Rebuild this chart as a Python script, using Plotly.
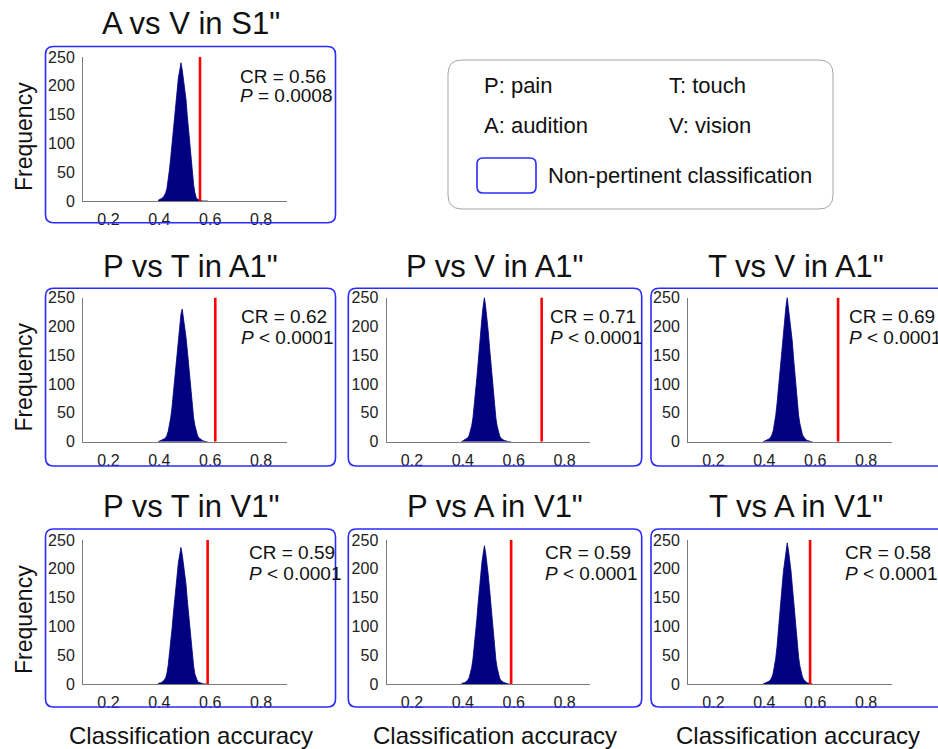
import plotly.graph_objects as go

W, H = 938, 749

# ---------------- data ----------------
BIN_CENTERS = [0.395, 0.400, 0.405, 0.410, 0.415, 0.420, 0.425, 0.430, 0.435, 0.440,
               0.445, 0.450, 0.455, 0.460, 0.465, 0.470, 0.475, 0.480, 0.485, 0.490,
               0.495, 0.500, 0.505, 0.510, 0.515, 0.520, 0.525, 0.530, 0.535, 0.540,
               0.545, 0.550, 0.555, 0.560, 0.565, 0.570, 0.575, 0.580, 0.585, 0.590]

FREQ_AV_S1 = [1, 2, 3, 4, 6, 10, 14, 22, 36, 55, 76, 98, 124, 150, 174, 196, 214, 226, 240, 228,
              213, 198, 176, 148, 122, 96, 72, 48, 28, 14, 6, 3, 2, 1, 0, 0, 0, 0, 0, 0]
FREQ_PT_A1 = [0, 1, 1, 2, 3, 5, 7, 11, 18, 28, 42, 60, 82, 108, 134, 158, 182, 200, 221, 230,
              216, 201, 181, 159, 133, 107, 83, 59, 41, 28, 17, 11, 7, 5, 3, 2, 1, 0, 0, 0]
FREQ_PV_A1 = [1, 1, 3, 4, 5, 7, 11, 18, 28, 42, 62, 81, 110, 136, 166, 190, 214, 235, 250, 233,
              216, 191, 164, 137, 108, 82, 60, 41, 27, 17, 10, 6, 4, 3, 2, 1, 0, 0, 0, 0]
FREQ_TV_A1 = [0, 1, 1, 2, 3, 5, 8, 12, 19, 30, 46, 66, 90, 118, 146, 173, 198, 219, 234, 250,
              232, 218, 197, 174, 145, 119, 89, 67, 45, 31, 19, 12, 8, 5, 3, 2, 1, 0, 0, 0]
FREQ_PT_V1 = [1, 1, 2, 3, 5, 7, 11, 19, 33, 52, 73, 96, 121, 147, 172, 195, 211, 224, 237, 225,
              210, 194, 173, 146, 120, 95, 72, 50, 31, 17, 9, 5, 3, 2, 1, 0, 0, 0, 0, 0]
FREQ_PA_V1 = [1, 1, 2, 3, 5, 7, 11, 18, 29, 44, 63, 84, 112, 139, 167, 190, 211, 226, 240, 227,
              212, 189, 166, 138, 110, 84, 61, 42, 28, 17, 10, 6, 4, 3, 2, 1, 0, 0, 0, 0]
FREQ_TA_V1 = [0, 1, 1, 2, 3, 5, 8, 12, 19, 30, 45, 65, 88, 116, 143, 170, 195, 215, 230, 245,
              232, 216, 196, 171, 145, 117, 90, 66, 46, 31, 19, 12, 8, 5, 3, 2, 1, 0, 0, 0]

PANEL_TITLES = ['A vs V in S1"', 'P vs T in A1"', 'P vs V in A1"', 'T vs V in A1"',
                'P vs T in V1"', 'P vs A in V1"', 'T vs A in V1"']
PANEL_FREQS = [FREQ_AV_S1, FREQ_PT_A1, FREQ_PV_A1, FREQ_TV_A1, FREQ_PT_V1, FREQ_PA_V1, FREQ_TA_V1]
CR_VALUES = [0.56, 0.62, 0.71, 0.69, 0.59, 0.59, 0.58]
P_LABELS = ["= 0.0008", "< 0.0001", "< 0.0001", "< 0.0001", "< 0.0001", "< 0.0001", "< 0.0001"]

X_TICKS = [0.2, 0.4, 0.6, 0.8]
X_TICK_LABELS = ["0.2", "0.4", "0.6", "0.8"]
Y_TICKS = [0, 50, 100, 150, 200, 250]
Y_TICK_LABELS = ["0", "50", "100", "150", "200", "250"]

LEGEND_ITEMS = ["P: pain", "T: touch", "A: audition", "V: vision"]
LEGEND_BOX_LABEL = "Non-pertinent classification"
Y_LABEL = "Frequency"
X_LABEL = "Classification accuracy"

# ---------------- geometry (pixels) ----------------
FONT = "Liberation Sans, Arial, sans-serif"
COL_PLOT = [(83, 286.5), (386.5, 590), (688, 891.5)]
ROW_PLOT = [(57, 201), (297.5, 441.7), (540, 684)]
COL_BOX = [(45.5, 335.5), (348.3, 641.7), (651, 950)]
ROW_BOX = [(46.5, 222.7), (288.3, 466), (529, 707)]
TITLE_Y = [23.5, 266, 506]
PANEL_POS = [(0, 0), (1, 0), (1, 1), (1, 2), (2, 0), (2, 1), (2, 2)]
TEXT_X = [0.709, 0.715, 0.735, 0.726, 0.745, 0.717, 0.71]
TEXT_OFFS = {0: (19, 38.5), 1: (19, 39.5), 2: (12, 33)}
BLUE = "#2b2bff"
NAVY = "#000080"
TXT = "#111111"


def px(x):
    return x / W


def py(y):
    return 1 - y / H


def rrect(x0, y0, x1, y1, r):
    pts = [("M", (x0 + r, y0)), ("L", (x1 - r, y0)), ("Q", (x1, y0), (x1, y0 + r)),
           ("L", (x1, y1 - r)), ("Q", (x1, y1), (x1 - r, y1)), ("L", (x0 + r, y1)),
           ("Q", (x0, y1), (x0, y1 - r)), ("L", (x0, y0 + r)), ("Q", (x0, y0), (x0 + r, y0))]
    s = ""
    for item in pts:
        cmd = item[0]
        coords = " ".join(f"{px(a):.5f},{py(b):.5f}" for a, b in item[1:])
        s += f"{cmd} {coords} "
    return s + "Z"


fig = go.Figure()
annotations = []
shapes = []
layout_axes = {}

for i, (row, col) in enumerate(PANEL_POS):
    n = i + 1
    xa = "x" if n == 1 else f"x{n}"
    ya = "y" if n == 1 else f"y{n}"
    fig.add_trace(go.Scatter(
        x=BIN_CENTERS, y=PANEL_FREQS[i], mode="lines", fill="tozeroy",
        line=dict(color=NAVY, width=0.8), fillcolor=NAVY,
        xaxis=xa, yaxis=ya, hoverinfo="skip", showlegend=False))
    fig.add_trace(go.Scatter(
        x=[CR_VALUES[i], CR_VALUES[i]], y=[0, 250], mode="lines",
        line=dict(color="#ff0000", width=2.6),
        xaxis=xa, yaxis=ya, hoverinfo="skip", showlegend=False))

    x0, x1 = COL_PLOT[col]
    y0, y1 = ROW_PLOT[row]
    axis_common = dict(showline=True, linecolor="#7a7a7a", linewidth=1, showgrid=False,
                       zeroline=False, ticks="", fixedrange=True, automargin=False,
                       tickfont=dict(family=FONT, size=16, color="#222222"))
    layout_axes["xaxis" if n == 1 else f"xaxis{n}"] = dict(
        domain=[px(x0), px(x1)], anchor=ya, range=[0.1, 0.9],
        tickvals=X_TICKS, ticktext=X_TICK_LABELS, ticklabelstandoff=4, **axis_common)
    layout_axes["yaxis" if n == 1 else f"yaxis{n}"] = dict(
        domain=[py(y1), py(y0)], anchor=xa, range=[0, 250],
        tickvals=Y_TICKS, ticktext=Y_TICK_LABELS, ticklabelstandoff=4, **axis_common)

    bx0, bx1 = COL_BOX[col]
    by0, by1 = ROW_BOX[row]
    shapes.append(dict(type="path", xref="paper", yref="paper",
                       path=rrect(bx0, by0, bx1, by1, 8),
                       line=dict(color=BLUE, width=1.6)))

    tcx = (bx0 + bx1) / 2 if col < 2 else 795.5
    annotations.append(dict(text=PANEL_TITLES[i], xref="paper", yref="paper",
                            x=px(tcx), y=py(TITLE_Y[row]), xanchor="center", yanchor="middle",
                            showarrow=False, font=dict(family=FONT, size=31, color=TXT)))
    o1, o2 = TEXT_OFFS[row]
    tx = x0 + (TEXT_X[i] - 0.1) / 0.8 * (x1 - x0)
    annotations.append(dict(text=f"CR = {CR_VALUES[i]:.2f}", xref="paper", yref="paper",
                            x=px(tx), y=py(y0 + o1), xanchor="left", yanchor="middle",
                            showarrow=False, font=dict(family=FONT, size=19, color=TXT)))
    annotations.append(dict(text=f"<i>P</i> {P_LABELS[i]}", xref="paper", yref="paper",
                            x=px(tx), y=py(y0 + o2), xanchor="left", yanchor="middle",
                            showarrow=False, font=dict(family=FONT, size=19, color=TXT)))

# y labels
for row in range(3):
    yc = (ROW_PLOT[row][0] + ROW_PLOT[row][1]) / 2 + 8
    annotations.append(dict(text=Y_LABEL, xref="paper", yref="paper", x=px(24), y=py(yc),
                            xanchor="center", yanchor="middle", textangle=-90, showarrow=False,
                            font=dict(family=FONT, size=23, color=TXT)))
# x labels
for xc in [191, 495, 798]:
    annotations.append(dict(text=X_LABEL, xref="paper", yref="paper", x=px(xc), y=py(735),
                            xanchor="center", yanchor="middle", showarrow=False,
                            font=dict(family=FONT, size=24, color=TXT)))

# legend box
shapes.append(dict(type="path", xref="paper", yref="paper",
                   path=rrect(448, 60, 833, 209, 14), line=dict(color="#a6a6a6", width=1)))
shapes.append(dict(type="path", xref="paper", yref="paper",
                   path=rrect(477, 158, 536, 193, 6), line=dict(color=BLUE, width=1.6)))
legend_pos = [(482, 85), (667, 85), (482, 125), (667, 125)]
for txt, (lx, ly) in zip(LEGEND_ITEMS, legend_pos):
    annotations.append(dict(text=txt, xref="paper", yref="paper", x=px(lx), y=py(ly),
                            xanchor="left", yanchor="middle", showarrow=False,
                            font=dict(family=FONT, size=22, color=TXT)))
annotations.append(dict(text=LEGEND_BOX_LABEL, xref="paper", yref="paper", x=px(546), y=py(175),
                        xanchor="left", yanchor="middle", showarrow=False,
                        font=dict(family=FONT, size=22, color=TXT)))

fig.update_layout(width=W, height=H,
                  margin=dict(l=0, r=0, t=0, b=0, pad=0, autoexpand=False),
                  paper_bgcolor="white", plot_bgcolor="white",
                  annotations=annotations, shapes=shapes, hovermode=False,
                  showlegend=False, **layout_axes)

fig.write_html("out.html", config={"displayModeBar": False},
               post_script="document.body.style.margin='0';document.body.style.overflow='hidden';")
